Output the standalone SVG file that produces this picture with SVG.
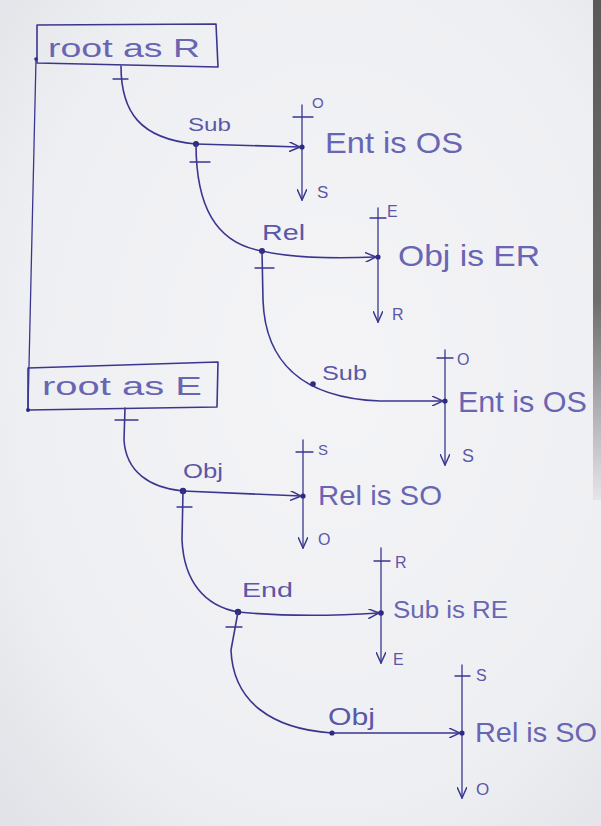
<svg xmlns="http://www.w3.org/2000/svg" width="601" height="826" viewBox="0 0 601 826">
<defs>
<radialGradient id="paper" cx="0.55" cy="0.45" r="0.75">
<stop offset="0" stop-color="#f4f4f7"/>
<stop offset="0.7" stop-color="#eeeff2"/>
<stop offset="1" stop-color="#e2e3e8"/>
</radialGradient>
<linearGradient id="edge" x1="0" y1="0" x2="0" y2="1">
<stop offset="0" stop-color="#5a5858"/>
<stop offset="0.6" stop-color="#6e6c6c"/>
<stop offset="1" stop-color="#e6e6ea"/>
</linearGradient>
<marker id="arr" viewBox="0 0 12 10" refX="11" refY="5" markerWidth="12" markerHeight="10" markerUnits="userSpaceOnUse" orient="auto">
<path d="M0,0 L11,5 L0,10" fill="none" stroke="#3a3690" stroke-width="1.5"/>
</marker>
<style>
.ink{fill:none;stroke:#3a3690;stroke-width:1.6;stroke-linecap:round;stroke-linejoin:round}
.thin{fill:none;stroke:#3a3690;stroke-width:1.3;stroke-linecap:round}
.dot{fill:#2e2a80}
.big{font-family:"Liberation Sans",Arial,sans-serif;fill:#6866b2}
.lab{font-family:"Liberation Sans",Arial,sans-serif;fill:#5a58a6}
</style>
</defs>
<rect width="601" height="826" fill="url(#paper)"/>
<rect x="593" y="0" width="8" height="500" fill="url(#edge)"/>

<g id="root-R">
<path class="ink" d="M37,25 L216,24 L218,67 L37,63 Z"/>
<text class="big" x="48" y="57" font-size="26" textLength="152" lengthAdjust="spacingAndGlyphs">root as R</text>
</g>
<g id="root-E">
<path class="ink" d="M28,368 L218,362 L217,407 L28,410 Z"/>
<text class="big" x="42" y="395" font-size="25" textLength="160" lengthAdjust="spacingAndGlyphs">root as E</text>
</g>

<g id="t1">
<line class="thin" x1="302" y1="105" x2="302" y2="200" marker-end="url(#arr)"/>
<line class="thin" x1="293" y1="117" x2="313" y2="117"/>
<circle class="dot" cx="302" cy="147" r="2.6"/>
<text class="lab" x="312" y="108" font-size="15">O</text>
<text class="lab" x="317" y="198" font-size="17">S</text>
<text class="big" x="325" y="153" font-size="30" textLength="138" lengthAdjust="spacingAndGlyphs">Ent is OS</text>
</g>
<g id="t2">
<line class="thin" x1="378" y1="208" x2="378" y2="322" marker-end="url(#arr)"/>
<line class="thin" x1="370" y1="218" x2="386" y2="218"/>
<circle class="dot" cx="378" cy="257" r="2.6"/>
<text class="lab" x="387" y="217" font-size="16">E</text>
<text class="lab" x="392" y="320" font-size="16">R</text>
<text class="big" x="398" y="266" font-size="30" textLength="142" lengthAdjust="spacingAndGlyphs">Obj is ER</text>
</g>
<g id="t3">
<line class="thin" x1="445" y1="350" x2="445" y2="465" marker-end="url(#arr)"/>
<line class="thin" x1="437" y1="358" x2="453" y2="358"/>
<circle class="dot" cx="445" cy="401" r="2.6"/>
<text class="lab" x="457" y="365" font-size="16">O</text>
<text class="lab" x="462" y="462" font-size="18">S</text>
<text class="big" x="458" y="412" font-size="29" textLength="129" lengthAdjust="spacingAndGlyphs">Ent is OS</text>
</g>
<g id="t4">
<line class="thin" x1="303" y1="440" x2="303" y2="548" marker-end="url(#arr)"/>
<line class="thin" x1="296" y1="452" x2="313" y2="452"/>
<circle class="dot" cx="303" cy="496" r="2.6"/>
<text class="lab" x="318" y="455" font-size="15">S</text>
<text class="lab" x="318" y="545" font-size="16">O</text>
<text class="big" x="318" y="505" font-size="28" textLength="124" lengthAdjust="spacingAndGlyphs">Rel is SO</text>
</g>
<g id="t5">
<line class="thin" x1="381" y1="548" x2="381" y2="663" marker-end="url(#arr)"/>
<line class="thin" x1="374" y1="561" x2="390" y2="561"/>
<circle class="dot" cx="381" cy="613" r="2.8"/>
<text class="lab" x="395" y="568" font-size="16">R</text>
<text class="lab" x="393" y="665" font-size="16">E</text>
<text class="big" x="393" y="618" font-size="23" textLength="115" lengthAdjust="spacingAndGlyphs">Sub is RE</text>
</g>
<g id="t6">
<line class="thin" x1="462" y1="665" x2="462" y2="798" marker-end="url(#arr)"/>
<line class="thin" x1="455" y1="676" x2="470" y2="676"/>
<circle class="dot" cx="462" cy="733" r="2.6"/>
<text class="lab" x="476" y="681" font-size="16">S</text>
<text class="lab" x="476" y="795" font-size="17">O</text>
<text class="big" x="475" y="742" font-size="28" textLength="122" lengthAdjust="spacingAndGlyphs">Rel is SO</text>
</g>

<g id="connectors">
<path class="thin" d="M36,59 L28,410"/>
<circle class="dot" cx="36" cy="59" r="1.8"/>
<circle class="dot" cx="28" cy="410" r="2"/>

<path class="ink" d="M121,66 C121,112 140,139 196,144"/>
<line class="thin" x1="113" y1="79" x2="128" y2="79"/>
<path class="ink" d="M196,144 L300,147" marker-end="url(#arr)"/>
<circle class="dot" cx="196" cy="144" r="3"/>
<text class="lab" x="188" y="131" font-size="18" textLength="43" lengthAdjust="spacingAndGlyphs">Sub</text>

<path class="ink" d="M196,144 C196,205 215,243 262,251"/>
<line class="thin" x1="190" y1="162" x2="210" y2="162"/>
<path class="ink" d="M262,251 Q300,260 376,257" marker-end="url(#arr)"/>
<circle class="dot" cx="262" cy="251" r="3"/>
<text class="lab" x="262" y="240" font-size="22" textLength="43" lengthAdjust="spacingAndGlyphs">Rel</text>

<path class="ink" d="M262,251 L263,300 C265,360 300,398 380,401 L443,401" marker-end="url(#arr)"/>
<line class="thin" x1="255" y1="268" x2="274" y2="268"/>
<circle class="dot" cx="313" cy="384" r="2.8"/>
<text class="lab" x="322" y="380" font-size="21" textLength="45" lengthAdjust="spacingAndGlyphs">Sub</text>

<path class="ink" d="M125,408 L124,440 C126,472 150,488 183,491"/>
<line class="thin" x1="115" y1="420" x2="138" y2="420"/>
<path class="ink" d="M183,491 L301,496" marker-end="url(#arr)"/>
<circle class="dot" cx="183" cy="491" r="3.2"/>
<text class="lab" x="183" y="478" font-size="20" textLength="40" lengthAdjust="spacingAndGlyphs">Obj</text>

<path class="ink" d="M183,491 L182,540 C184,582 205,606 238,612"/>
<line class="thin" x1="177" y1="507" x2="192" y2="507"/>
<path class="ink" d="M238,612 Q300,618 379,613" marker-end="url(#arr)"/>
<circle class="dot" cx="238" cy="612" r="3.2"/>
<text class="lab" x="242" y="597" font-size="21" textLength="51" lengthAdjust="spacingAndGlyphs">End</text>

<path class="ink" d="M238,612 L231,650 C233,702 272,729 332,733"/>
<line class="thin" x1="226" y1="627" x2="242" y2="627"/>
<path class="ink" d="M332,733 L460,733" marker-end="url(#arr)"/>
<circle class="dot" cx="332" cy="733" r="2.6"/>
<text class="lab" x="328" y="725" font-size="24" textLength="47" lengthAdjust="spacingAndGlyphs">Obj</text>
</g>
</svg>
